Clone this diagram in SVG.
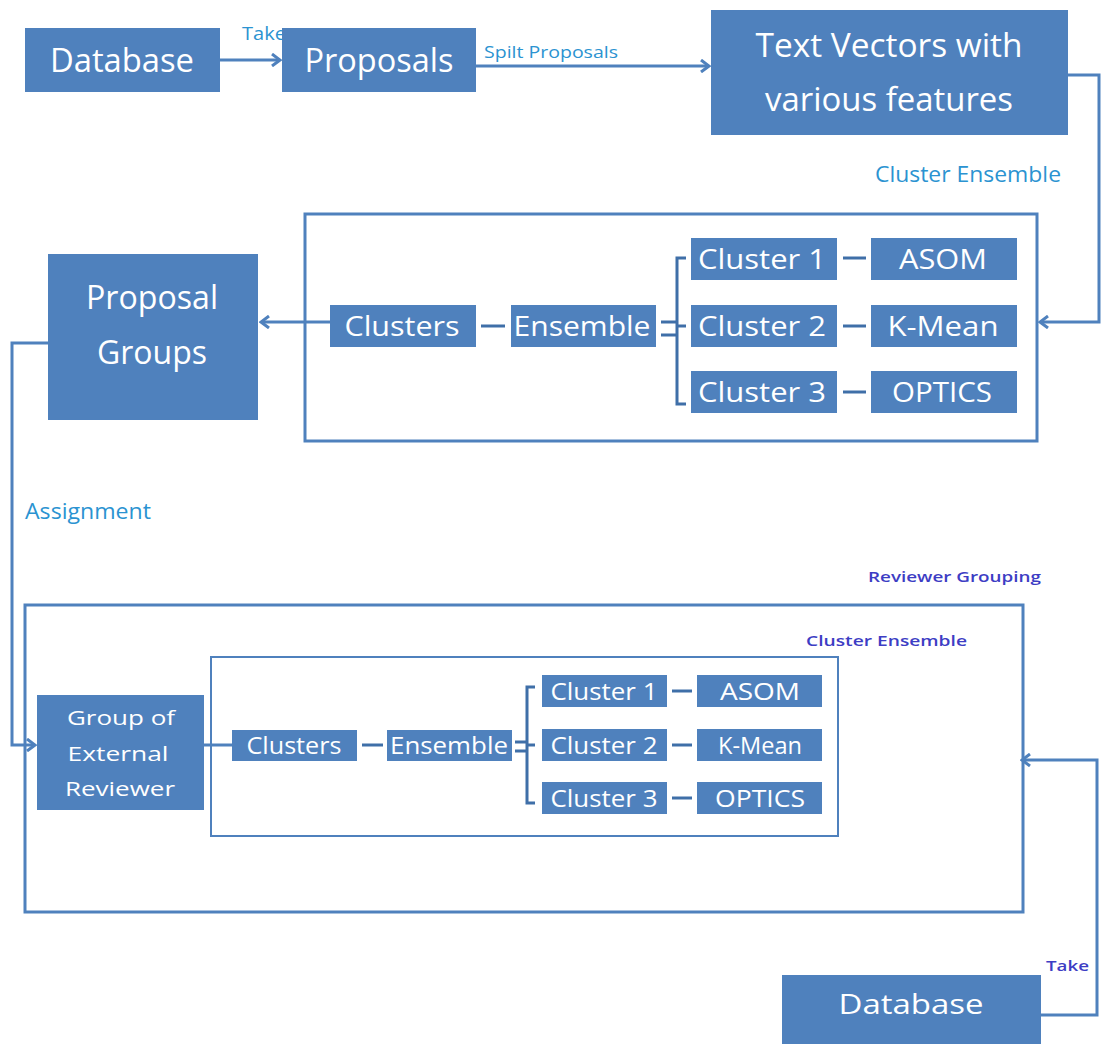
<svg xmlns="http://www.w3.org/2000/svg" width="1101" height="1044" viewBox="0 0 1101 1044">
<style>
.box{fill:#4f81bd;}
.frame{fill:none;stroke:#4f81bd;stroke-width:3;}
.t{fill:#ffffff;font-family:"Open Sans","Noto Sans",sans-serif;text-anchor:middle;}
.lb{fill:#2b93d1;font-family:"Open Sans","Noto Sans",sans-serif;}
.lp{fill:#3d3dc4;font-family:"Open Sans","Noto Sans",sans-serif;font-weight:600;}
.c{fill:none;stroke:#4f81bd;stroke-width:3;}
.d{fill:none;stroke:#3f6fa8;stroke-width:3;}
</style>
<defs>
<marker id="ah" markerWidth="12" markerHeight="14" refX="10" refY="7" orient="auto" markerUnits="userSpaceOnUse">
<path d="M2,1 L10,7 L2,13" fill="none" stroke="#4f81bd" stroke-width="3"/>
</marker>
</defs>

<text class="lb" x="242" y="40" font-size="18" textLength="44" lengthAdjust="spacingAndGlyphs">Take</text>
<text class="lb" x="484" y="58" font-size="17" textLength="134" lengthAdjust="spacingAndGlyphs">Spilt Proposals</text>
<text class="lb" x="875" y="182" font-size="21" textLength="186" lengthAdjust="spacingAndGlyphs">Cluster Ensemble</text>
<text class="lb" x="25" y="519" font-size="21" textLength="126" lengthAdjust="spacingAndGlyphs">Assignment</text>
<text class="lp" x="868" y="582" font-size="15" textLength="173" lengthAdjust="spacingAndGlyphs">Reviewer Grouping</text>
<text class="lp" x="806" y="646" font-size="15" textLength="161" lengthAdjust="spacingAndGlyphs">Cluster Ensemble</text>
<text class="lp" x="1046" y="971" font-size="15" textLength="43" lengthAdjust="spacingAndGlyphs">Take</text>

<g id="connectors">
<line class="c" x1="220" y1="60" x2="280" y2="60" marker-end="url(#ah)"/>
<line class="c" x1="476" y1="66" x2="709" y2="66" marker-end="url(#ah)"/>
<polyline class="c" points="1068,75 1099,75 1099,322 1040,322" marker-end="url(#ah)"/>
<line class="c" x1="330" y1="322" x2="261" y2="322" marker-end="url(#ah)"/>
<polyline class="c" points="48,343 12,343 12,745 35,745" marker-end="url(#ah)"/>
<polyline class="c" points="1041,1015 1097,1015 1097,760 1022,760" marker-end="url(#ah)"/>
<line class="c" x1="204" y1="745" x2="232" y2="745"/>
<line class="d" x1="481" y1="326" x2="505" y2="326"/>
<line class="d" x1="661" y1="322" x2="677" y2="322"/>
<line class="d" x1="661" y1="335" x2="677" y2="335"/>
<polyline class="d" points="686,258 677,258 677,404 686,404"/>
<line class="d" x1="677" y1="326" x2="686" y2="326"/>
<line class="d" x1="843" y1="258" x2="866" y2="258"/>
<line class="d" x1="843" y1="326" x2="866" y2="326"/>
<line class="d" x1="843" y1="392" x2="866" y2="392"/>
<line class="d" x1="362" y1="745" x2="383" y2="745"/>
<line class="d" x1="515" y1="742" x2="527" y2="742"/>
<line class="d" x1="515" y1="751" x2="527" y2="751"/>
<polyline class="d" points="535,687 527,687 527,803 535,803"/>
<line class="d" x1="527" y1="745" x2="535" y2="745"/>
<line class="d" x1="672" y1="691" x2="692" y2="691"/>
<line class="d" x1="672" y1="745" x2="692" y2="745"/>
<line class="d" x1="672" y1="798" x2="692" y2="798"/>
</g>

<g id="database-top"><rect class="box" x="25" y="28" width="195" height="64"/><text class="t" x="122" y="72" font-size="32" textLength="144" lengthAdjust="spacingAndGlyphs">Database</text></g>
<g id="proposals"><rect class="box" x="282" y="28" width="194" height="64"/><text class="t" x="379" y="72" font-size="32" textLength="149" lengthAdjust="spacingAndGlyphs">Proposals</text></g>
<g id="text-vectors"><rect class="box" x="711" y="10" width="357" height="125"/><text class="t" x="889" y="57" font-size="32" textLength="267" lengthAdjust="spacingAndGlyphs">Text Vectors with</text><text class="t" x="889" y="111" font-size="32" textLength="248" lengthAdjust="spacingAndGlyphs">various features</text></g>

<g id="cluster-ensemble-top"><rect class="frame" x="305" y="214" width="732" height="227"/></g>
<g id="proposal-groups"><rect class="box" x="48" y="254" width="210" height="166"/><text class="t" x="152" y="309" font-size="32" textLength="132" lengthAdjust="spacingAndGlyphs">Proposal</text><text class="t" x="152" y="364" font-size="32" textLength="110" lengthAdjust="spacingAndGlyphs">Groups</text></g>
<g id="clusters-top"><rect class="box" x="330" y="305" width="146" height="42"/><text class="t" x="402" y="336" font-size="28" textLength="115" lengthAdjust="spacingAndGlyphs">Clusters</text></g>
<g id="ensemble-top"><rect class="box" x="511" y="305" width="145" height="42"/><text class="t" x="582" y="336" font-size="28" textLength="137" lengthAdjust="spacingAndGlyphs">Ensemble</text></g>
<g id="cluster1-top"><rect class="box" x="691" y="238" width="146" height="42"/><text class="t" x="762" y="269" font-size="28" textLength="128" lengthAdjust="spacingAndGlyphs">Cluster 1</text></g>
<g id="cluster2-top"><rect class="box" x="691" y="305" width="146" height="42"/><text class="t" x="762" y="336" font-size="28" textLength="128" lengthAdjust="spacingAndGlyphs">Cluster 2</text></g>
<g id="cluster3-top"><rect class="box" x="691" y="371" width="146" height="42"/><text class="t" x="762" y="402" font-size="28" textLength="128" lengthAdjust="spacingAndGlyphs">Cluster 3</text></g>
<g id="asom-top"><rect class="box" x="871" y="238" width="146" height="42"/><text class="t" x="943" y="269" font-size="28" textLength="88" lengthAdjust="spacingAndGlyphs">ASOM</text></g>
<g id="kmean-top"><rect class="box" x="871" y="305" width="146" height="42"/><text class="t" x="943" y="336" font-size="28" textLength="111" lengthAdjust="spacingAndGlyphs">K-Mean</text></g>
<g id="optics-top"><rect class="box" x="871" y="371" width="146" height="42"/><text class="t" x="942" y="402" font-size="28" textLength="100" lengthAdjust="spacingAndGlyphs">OPTICS</text></g>

<g id="reviewer-grouping"><rect class="frame" x="25" y="605" width="998" height="307"/></g>
<g id="cluster-ensemble-bottom"><rect fill="none" stroke="#4f81bd" stroke-width="2" x="211" y="657" width="627" height="179"/></g>
<g id="group-external-reviewer"><rect class="box" x="37" y="695" width="167" height="115"/><text class="t" x="121" y="725" font-size="20" textLength="108" lengthAdjust="spacingAndGlyphs">Group of</text><text class="t" x="118" y="761" font-size="20" textLength="101" lengthAdjust="spacingAndGlyphs">External</text><text class="t" x="120" y="796" font-size="20" textLength="110" lengthAdjust="spacingAndGlyphs">Reviewer</text></g>
<g id="clusters-bottom"><rect class="box" x="232" y="730" width="125" height="31"/><text class="t" x="294" y="754" font-size="23" textLength="95" lengthAdjust="spacingAndGlyphs">Clusters</text></g>
<g id="ensemble-bottom"><rect class="box" x="387" y="730" width="125" height="31"/><text class="t" x="449" y="754" font-size="23" textLength="118" lengthAdjust="spacingAndGlyphs">Ensemble</text></g>
<g id="cluster1-bottom"><rect class="box" x="542" y="675" width="125" height="32"/><text class="t" x="604" y="700" font-size="23" textLength="107" lengthAdjust="spacingAndGlyphs">Cluster 1</text></g>
<g id="cluster2-bottom"><rect class="box" x="542" y="729" width="125" height="32"/><text class="t" x="604" y="754" font-size="23" textLength="107" lengthAdjust="spacingAndGlyphs">Cluster 2</text></g>
<g id="cluster3-bottom"><rect class="box" x="542" y="782" width="125" height="32"/><text class="t" x="604" y="807" font-size="23" textLength="107" lengthAdjust="spacingAndGlyphs">Cluster 3</text></g>
<g id="asom-bottom"><rect class="box" x="697" y="675" width="125" height="32"/><text class="t" x="760" y="700" font-size="23" textLength="80" lengthAdjust="spacingAndGlyphs">ASOM</text></g>
<g id="kmean-bottom"><rect class="box" x="697" y="729" width="125" height="32"/><text class="t" x="760" y="754" font-size="23" textLength="84" lengthAdjust="spacingAndGlyphs">K-Mean</text></g>
<g id="optics-bottom"><rect class="box" x="697" y="782" width="125" height="32"/><text class="t" x="760" y="807" font-size="23" textLength="90" lengthAdjust="spacingAndGlyphs">OPTICS</text></g>

<g id="database-bottom"><rect class="box" x="782" y="975" width="259" height="75"/><text class="t" x="911" y="1014" font-size="28" textLength="145" lengthAdjust="spacingAndGlyphs">Database</text></g>
</svg>
